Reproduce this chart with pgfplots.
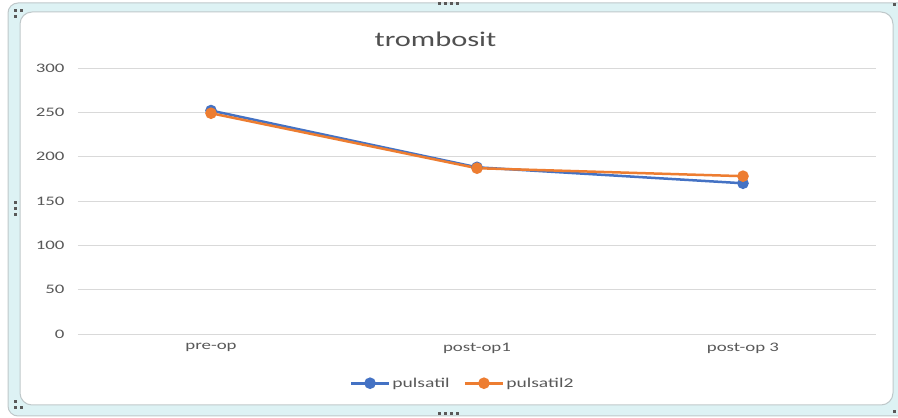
\documentclass[border=0pt]{standalone}
\usepackage{pgfplots}
\pgfplotsset{compat=1.18}
\usepackage{fontspec}
\setmainfont{Carlito}[FakeStretch=1.45]
\definecolor{sblue}{HTML}{4472C4}
\definecolor{sorange}{HTML}{ED7D31}
\definecolor{tickgray}{HTML}{595959}
\definecolor{gridgray}{HTML}{D9D9D9}
\definecolor{framecyan}{HTML}{DDF2F4}
\definecolor{framegray}{HTML}{BFC8CA}
\begin{document}
\begin{tikzpicture}[x=1pt,y=1pt]
\useasboundingbox (0,0) rectangle (898,418);
\clip (0,0) rectangle (898,418);
% frame
\draw[framegray, fill=framecyan, rounded corners=10pt, line width=1pt] (8,2) rectangle (912,415);
\draw[framegray, fill=white, rounded corners=12pt, line width=1pt] (20,13) rectangle (893,406);
% handles
\foreach \dx in {0,6,12,18} {
  \fill[gray!70!black] (448+\dx-9-1.5,414.5-1.5) rectangle ++(3,3);
  \fill[gray!70!black] (448+\dx-9-1.5,4.5-1.5) rectangle ++(3,3);
}
\foreach \dy in {0,6,12} {\fill[gray!70!black] (13.5,209+\dy-6-1.5) rectangle ++(3,3);}
\fill[gray!70!black] (14,400) rectangle ++(3,3);
\fill[gray!70!black] (14,406) rectangle ++(3,3);
\fill[gray!70!black] (20,406) rectangle ++(3,3);
\fill[gray!70!black] (14,9) rectangle ++(3,3);
\fill[gray!70!black] (14,15) rectangle ++(3,3);
\fill[gray!70!black] (20,9) rectangle ++(3,3);
\fill[gray!70!black] (893,412) rectangle ++(3,3);
\fill[gray!70!black] (893,5) rectangle ++(3,3);
\begin{axis}[
  at={(78pt,84pt)}, anchor=south west,
  scale only axis, width=798pt, height=266pt,
  xmin=-0.5, xmax=2.5, ymin=0, ymax=300,
  xtick={0,1,2}, xticklabels={pre-op,post-op1,post-op 3},
  ytick={0,50,...,300},
  axis line style={draw=none},
  tick style={draw=none},
  ymajorgrids, grid style={gridgray, line width=0.8pt},
  every tick label/.append style={text=tickgray, font=\fontsize{13}{15}\selectfont},
  yticklabel style={xshift=-10pt},
  xticklabel style={yshift=-6pt},
  /pgf/number format/assume math mode=true,
  clip=false,
  title={trombosit},
  title style={font=\fontsize{21}{24}\selectfont, text=tickgray!90!black, at={(0.448,1)}, yshift=12pt},
  legend style={at={(0.482,-0.185)}, anchor=center, draw=none, fill=none,
    legend columns=2, font=\fontsize{13.5}{15}\selectfont, text=tickgray,
    /tikz/every even column/.append style={column sep=12pt}},
  legend image code/.code={
    \draw[#1, line width=2.6pt] (0pt,0pt) -- (38pt,0pt);
    \fill[#1] (19pt,0pt) circle (4.5pt);
  },
]
\addplot[sblue, line width=2.5pt, mark=*, mark size=4.5pt, mark options={fill=sblue, draw=sblue}] coordinates {(0,252) (1,188) (2,170)};
\addlegendentry{pulsatil}
\addplot[sorange, line width=2.5pt, mark=*, mark size=4.5pt, mark options={fill=sorange, draw=sorange}] coordinates {(0,249) (1,187) (2,178)};
\addlegendentry{pulsatil2}
\end{axis}
\end{tikzpicture}
\end{document}
